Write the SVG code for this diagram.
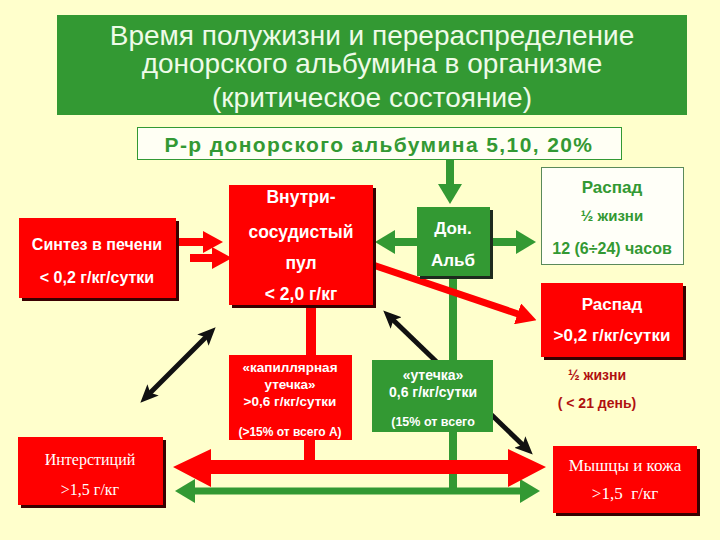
<svg xmlns="http://www.w3.org/2000/svg" width="720" height="540" viewBox="0 0 720 540">
<defs>
<style>
.sans{font-family:"Liberation Sans",Arial,sans-serif;}
.serif{font-family:"Liberation Serif","Times New Roman",serif;}
.w{fill:#ffffff;}
.b{font-weight:bold;}
.red{fill:#ff0000;}
.grn{fill:#339933;}
.sh{fill:#3a0000;}
.gtext{fill:#339933;font-weight:bold;}
.drt{fill:#b01010;font-weight:bold;}
</style>
<marker id="mb" markerUnits="userSpaceOnUse" markerWidth="18" markerHeight="16" viewBox="0 0 18 16" refX="10" refY="8" orient="auto-start-reverse">
<path d="M0,0 L18,8 L0,16 L4,8 z" fill="#111111"/>
</marker>
<marker id="mg" markerUnits="userSpaceOnUse" markerWidth="20" markerHeight="24" viewBox="0 0 20 24" refX="10" refY="12" orient="auto-start-reverse">
<path d="M0,0 L20,12 L0,24 z" fill="#339933"/>
</marker>
<marker id="mr" markerUnits="userSpaceOnUse" markerWidth="20" markerHeight="22" viewBox="0 0 20 22" refX="10" refY="11" orient="auto-start-reverse">
<path d="M0,0 L20,11 L0,22 z" fill="#ff0000"/>
</marker>
</defs>
<rect width="720" height="540" fill="#ffffcc"/>

<g id="connectors">
<!-- green -->
<path d="M450,160 V194" stroke="#339933" stroke-width="8" fill="none" marker-end="url(#mg)"/>
<path d="M417,242 H385" stroke="#339933" stroke-width="8" fill="none" marker-end="url(#mg)"/>
<path d="M490,242 H526" stroke="#339933" stroke-width="8" fill="none" marker-end="url(#mg)"/>
<path d="M453,276 V491" stroke="#339933" stroke-width="8" fill="none"/>
<path d="M185,491 H530" stroke="#339933" stroke-width="7" fill="none" marker-start="url(#mg)" marker-end="url(#mg)"/>
<!-- red -->
<path d="M176,242 H213" stroke="#ff0000" stroke-width="8" fill="none" marker-end="url(#mr)"/>
<path d="M190,258 H222" stroke="#ff0000" stroke-width="8" fill="none" marker-end="url(#mr)"/>
<path d="M373,265 L527,317" stroke="#ff0000" stroke-width="7" fill="none" marker-end="url(#mr)"/>
<rect x="306" y="304" width="10" height="52" fill="#ff0000"/>
<rect x="304" y="439" width="11" height="24" fill="#ff0000"/>
<polygon points="173,467 211,449 211,460 508,460 508,449 546,467 508,487 508,474 211,474 211,487" fill="#ff0000"/>
<!-- black -->
<path d="M210,333 L146,397" stroke="#111111" stroke-width="5" fill="none" marker-start="url(#mb)" marker-end="url(#mb)"/>
<path d="M389,316 L527,449" stroke="#111111" stroke-width="5" fill="none" marker-start="url(#mb)" marker-end="url(#mb)"/>
</g>

<g id="title">
<rect x="57" y="15" width="630" height="100" fill="#339933"/>
<text class="sans" fill="#eefbe8" font-size="28" text-anchor="middle"><tspan x="372" y="45">Время полужизни и перераспределение</tspan><tspan x="372" y="73">донорского альбумина в организме</tspan><tspan x="372" y="107">(критическое состояние)</tspan></text>
</g>

<g id="solution">
<rect x="137.5" y="127.5" width="484" height="32" fill="#fffff4" stroke="#339933" stroke-width="1"/>
<text class="sans gtext" font-size="21" text-anchor="middle" x="379" y="152" letter-spacing="1.4">Р-р донорского альбумина 5,10, 20%</text>
</g>

<g id="synthesis">
<rect x="22" y="221" width="157" height="80" class="sh"/>
<rect x="19" y="218" width="157" height="80" class="red"/>
<text class="sans w b" font-size="16" text-anchor="middle"><tspan x="97" y="250">Синтез в печени</tspan><tspan x="97" y="283">&lt; 0,2 г/кг/сутки</tspan></text>
</g>

<g id="pool">
<rect x="232" y="188" width="144" height="120" class="sh"/>
<rect x="229" y="185" width="144" height="120" class="red"/>
<text class="sans w b" font-size="17.5" text-anchor="middle"><tspan x="301" y="203">Внутри-</tspan><tspan x="301" y="238">сосудистый</tspan><tspan x="301" y="269">пул</tspan><tspan x="301" y="300">&lt; 2,0 г/кг</tspan></text>
</g>

<g id="donor">
<rect x="420" y="210" width="73" height="69" fill="#1e2a1e"/>
<rect x="417" y="207" width="73" height="69" class="grn"/>
<text class="sans w b" font-size="17" text-anchor="middle"><tspan x="453" y="234">Дон.</tspan><tspan x="453" y="266">Альб</tspan></text>
</g>

<g id="decay-half">
<rect x="541.5" y="167.5" width="142" height="97" fill="#fffff8" stroke="#5a8a5a" stroke-width="1"/>
<text class="sans gtext" font-size="16" text-anchor="middle"><tspan x="612" y="193" font-size="17">Распад</tspan><tspan x="612" y="221" font-size="15">½  жизни</tspan><tspan x="612" y="254">12 (6÷24) часов</tspan></text>
</g>

<g id="decay">
<rect x="544" y="286" width="142" height="74" class="sh"/>
<rect x="541" y="283" width="142" height="74" class="red"/>
<text class="sans w b" font-size="17" text-anchor="middle"><tspan x="612" y="310">Распад</tspan><tspan x="612" y="341">&gt;0,2 г/кг/сутки</tspan></text>
</g>

<g id="decay-note">
<text class="sans drt" font-size="14" text-anchor="middle"><tspan x="597" y="380">½  жизни</tspan><tspan x="597" y="408">( &lt; 21 день)</tspan></text>
</g>

<g id="capillary">
<rect x="229" y="355" width="123" height="85" class="red"/>
<text class="sans w b" font-size="13.5" text-anchor="middle"><tspan x="290" y="372">«капиллярная</tspan><tspan x="290" y="389">утечка»</tspan><tspan x="290" y="406">&gt;0,6 г/кг/сутки</tspan><tspan x="290" y="436" font-size="12">(&gt;15% от всего А)</tspan></text>
</g>

<g id="leak">
<rect x="372" y="360" width="121" height="72" class="grn"/>
<text class="sans w b" font-size="14" text-anchor="middle"><tspan x="433" y="380">«утечка»</tspan><tspan x="433" y="397">0,6 г/кг/сутки</tspan><tspan x="433" y="426" font-size="12.5">(15% от всего</tspan></text>
</g>

<g id="interstitium">
<rect x="21" y="440" width="145" height="68" class="sh"/>
<rect x="18" y="437" width="145" height="68" class="red"/>
<text class="serif w" font-size="16" text-anchor="middle"><tspan x="90" y="465">Интерстиций</tspan><tspan x="90" y="495">&gt;1,5 г/кг</tspan></text>
</g>

<g id="muscle">
<rect x="556" y="449" width="144" height="67" class="sh"/>
<rect x="553" y="446" width="144" height="67" class="red"/>
<text class="serif w" font-size="17" text-anchor="middle"><tspan x="625" y="471">Мышцы и кожа</tspan><tspan x="625" y="499" xml:space="preserve">&gt;1,5  г/кг</tspan></text>
</g>
</svg>
